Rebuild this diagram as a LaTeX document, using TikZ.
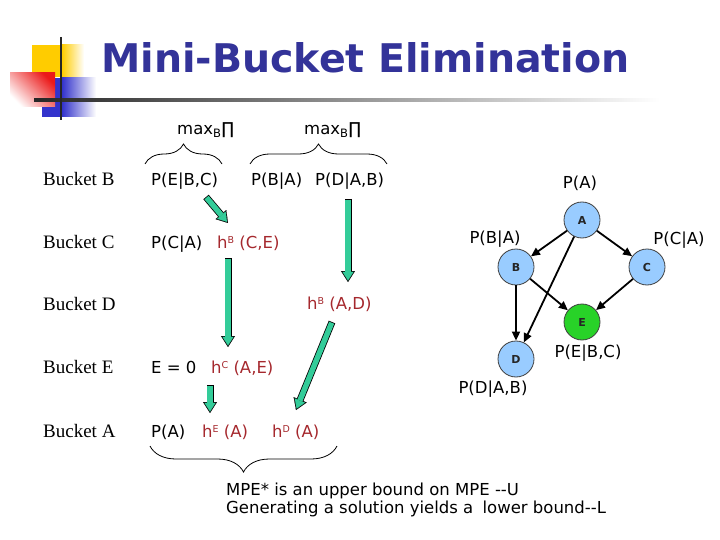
\documentclass[tikz,border=0pt]{standalone}
\usepackage{fontspec}
\setmainfont{DejaVu Sans}
\newfontfamily\bucketfont{Liberation Serif}
\usetikzlibrary{arrows.meta,positioning,calc,decorations.pathreplacing}
\definecolor{titleBlue}{RGB}{51,51,153}
\definecolor{hRed}{RGB}{165,40,45}
\definecolor{mbeGreen}{RGB}{51,204,153}
\definecolor{nodeBlue}{RGB}{153,204,255}
\definecolor{evidGreen}{RGB}{40,210,40}
\definecolor{decoYellow}{RGB}{255,204,0}
\definecolor{decoBlue}{RGB}{51,51,204}
\definecolor{decoRed}{RGB}{235,25,25}
\newcommand{\hsup}[1]{h\raisebox{5pt}{\fontsize{9.5}{10}\selectfont #1}}

\begin{document}
\begin{tikzpicture}[x=1pt,y=-1pt,
    bucket/.style={anchor=base west,inner sep=0pt,font=\bucketfont\fontsize{19}{22}\selectfont},
    fn/.style={anchor=base west,inner sep=0pt,font=\fontsize{16.5}{20}\selectfont},
    hfn/.style={fn,text=hRed},
    lbl/.style={inner sep=0pt,font=\fontsize{16.5}{20}\selectfont},
    bn/.style={circle,draw=black!75,line width=0.8pt,fill=nodeBlue,minimum size=36pt,
      inner sep=0pt,font=\bfseries\fontsize{11}{13}\selectfont,text=black!85},
    edge/.style={line width=1.8pt,-{Triangle[length=9pt,width=8pt]}},
    fatarrow/.style={line width=7pt,-{Triangle[length=11pt,width=14pt,line width=0.1pt]},
      postaction={draw=mbeGreen,line width=5.4pt,shorten <=0.8pt,shorten >=1.5pt,
        -{Triangle[length=8.7pt,width=11.1pt,line width=0.1pt]}}},
    curly/.style={decorate,decoration={brace,amplitude=#1},line width=0.8pt}
  ]
    \useasboundingbox (0,0) rectangle (720,540);

    % title decoration
    \fill[decoYellow] (32,45) rectangle (62,77);
    \shade[left color=decoYellow,right color=white] (62,45) rectangle (84,77);
    \fill[decoBlue] (42,78) rectangle (62,117);
    \shade[left color=decoBlue,right color=white] (62,78) rectangle (96,117);
    \shade[top color=decoRed,bottom color=white,shading angle=-45] (10,73) rectangle (55,107);
    \shade[left color=black!85,middle color=black!45,right color=white] (34,98.5) rectangle (660,101.5);
    \draw[line width=2.5pt,black!85] (61,37) -- (61,120);
    \node[anchor=base west,inner sep=0pt,font=\bfseries\fontsize{39.5}{44}\selectfont,text=titleBlue]
      (title) at (101,73) {Mini-Bucket Elimination};

    % buckets
    \node[bucket] (bktB) at (43,186) {Bucket B};
    \node[bucket] (bktC) at (43,248) {Bucket C};
    \node[bucket] (bktD) at (43,310) {Bucket D};
    \node[bucket] (bktE) at (43,373) {Bucket E};
    \node[bucket] (bktA) at (43,437) {Bucket A};

    \node[fn] (maxL) at (177,135) {max\textsubscript{B}∏};
    \node[fn] (maxR) at (304,135) {max\textsubscript{B}∏};
    \draw[curly=20pt] (145,164) -- (222,164);
    \draw[curly=20pt] (250,164) -- (387,164);

    \node[fn] (pEBC) at (151,186) {P(E|B,C)};
    \node[fn] (pBAD) at (251,186) {P(B|A)\hspace{13pt}P(D|A,B)};
    \node[fn] (pCA) at (151,248) {P(C|A)};
    \node[hfn] (hBCE) at (217,248) {\hsup{B} (C,E)};
    \node[hfn] (hBAD) at (307,309) {\hsup{B} (A,D)};
    \node[fn] (eZero) at (151,373) {E = 0};
    \node[hfn] (hCAE) at (211,373) {\hsup{C} (A,E)};
    \node[fn] (pA) at (151,437) {P(A)};
    \node[hfn] (hEA) at (202,437) {\hsup{E} (A)};
    \node[hfn] (hDA) at (272,437) {\hsup{D} (A)};

    \draw[curly=26pt] (337,446) -- (150,446);
    \node[fn] (note1) at (226,495) {MPE* is an upper bound on MPE {-}{-}U};
    \node[fn] (note2) at (226,513) {Generating a solution yields a\hspace{4pt} lower bound{-}{-}L};

    % messages
    \coordinate (m1s) at (206,197); \coordinate (m1e) at (228,223);
    \coordinate (m2s) at (348,199); \coordinate (m2e) at (348,282);
    \coordinate (m3s) at (228,258); \coordinate (m3e) at (228,347);
    \coordinate (m4s) at (332,322); \coordinate (m4e) at (296,410);
    \coordinate (m5s) at (210,385); \coordinate (m5e) at (210,413);
    \draw[fatarrow] (m1s) -- (m1e);
    \draw[fatarrow] (m2s) -- (m2e);
    \draw[fatarrow] (m3s) -- (m3e);
    \draw[fatarrow] (m4s) -- (m4e);
    \draw[fatarrow] (m5s) -- (m5e);

    % belief network
    \node[bn] (A) at (582,220) {A};
    \node[bn] (B) at (516,267) {B};
    \node[bn] (C) at (647,267) {C};
    \node[bn,fill=evidGreen] (E) at (582,322) {E};
    \node[bn] (D) at (516,359) {D};
    \node[lbl] at (580,183) {P(A)};
    \node[lbl] at (495,239) {P(B|A)};
    \node[lbl] at (679,240) {P(C|A)};
    \node[lbl] at (588,353) {P(E|B,C)};
    \node[lbl] at (493,389) {P(D|A,B)};
    \draw[edge] (A) -- (B);
    \draw[edge] (A) -- (C);
    \draw[edge] (A) -- (D);
    \draw[edge] (B) -- (D);
    \draw[edge] (B) -- (E);
    \draw[edge] (C) -- (E);
\end{tikzpicture}
\end{document}
